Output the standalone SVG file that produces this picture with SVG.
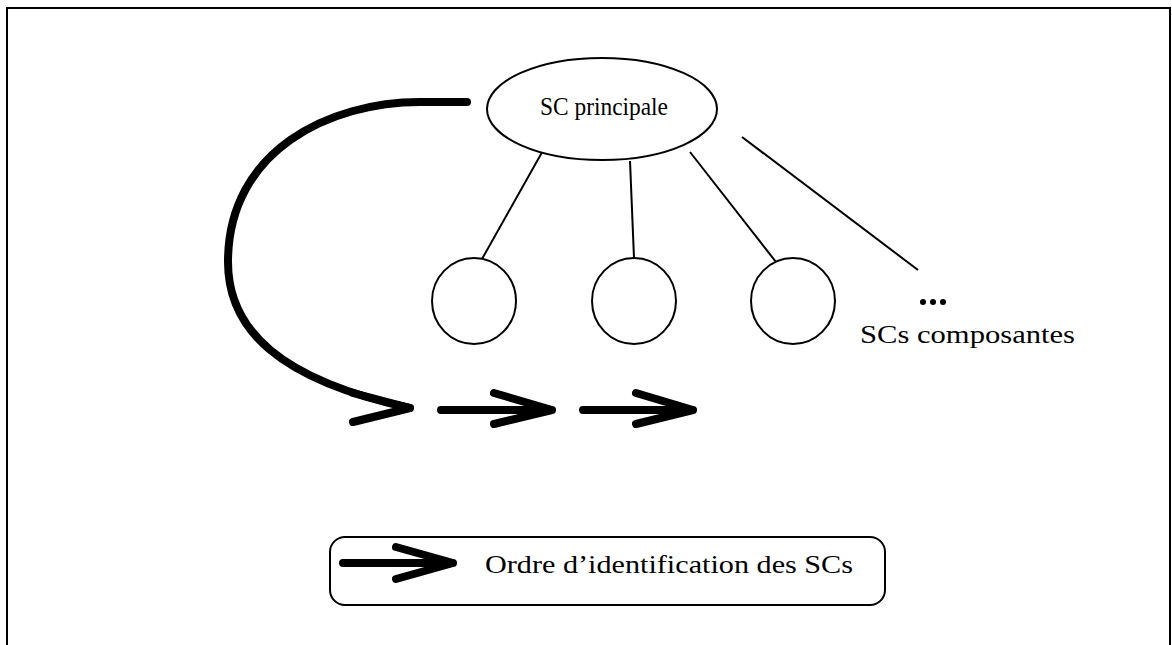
<svg xmlns="http://www.w3.org/2000/svg" width="1172" height="645" viewBox="0 0 1172 645">
<style>
.thin{fill:none;stroke:#000;stroke-width:2}
.node{fill:#fff;stroke:#000;stroke-width:2}
.thick{fill:none;stroke:#000;stroke-width:8;stroke-linecap:round;stroke-linejoin:round}
.lbl{font-family:"Liberation Serif","DejaVu Serif",serif;font-size:25px;fill:#000}
</style>
<rect x="0" y="0" width="1172" height="645" fill="#fff"/>
<rect x="7" y="8" width="1163" height="660" fill="none" stroke="#000" stroke-width="2"/>
<g id="connectors">
<line class="thin" x1="545" y1="147" x2="482" y2="259"/>
<line class="thin" x1="630" y1="161" x2="634" y2="258"/>
<line class="thin" x1="690" y1="152" x2="776" y2="262"/>
<line class="thin" x1="742" y1="137" x2="918" y2="270"/>
<path class="thick" d="M467,102 L420,102 C330,102 228,150 228,262 C228,330 280,380 410,408"/>
<path class="thick" d="M353,393 L410,408 L353,422"/>
<path class="thick" d="M441,410 L552,410 M494,393 L552,410 L494,424"/>
<path class="thick" d="M583,410 L693,410 M636,393 L693,410 L636,424"/>
</g>
<g id="sc-principale">
<ellipse class="node" cx="602" cy="109" rx="115" ry="51"/>
<text class="lbl" x="604" y="115" font-size="23" text-anchor="middle" textLength="128" lengthAdjust="spacingAndGlyphs">SC principale</text>
</g>
<g id="sc1"><ellipse class="node" cx="474" cy="301" rx="42" ry="43"/></g>
<g id="sc2"><ellipse class="node" cx="634" cy="301" rx="42" ry="43"/></g>
<g id="sc3"><ellipse class="node" cx="793" cy="301" rx="42" ry="43"/></g>
<g id="sc-composantes">
<circle cx="923" cy="302" r="3"/>
<circle cx="933" cy="302" r="3"/>
<circle cx="943" cy="302" r="3"/>
<text class="lbl" x="860" y="343" textLength="215" lengthAdjust="spacingAndGlyphs">SCs composantes</text>
</g>
<g id="legend">
<rect x="330" y="537" width="555" height="68" rx="15" fill="none" stroke="#000" stroke-width="2"/>
<path class="thick" d="M343,563 L453,563 M396,547 L453,563 L396,579"/>
<text class="lbl" x="485" y="573" textLength="368" lengthAdjust="spacingAndGlyphs">Ordre d’identification des SCs</text>
</g>
</svg>
